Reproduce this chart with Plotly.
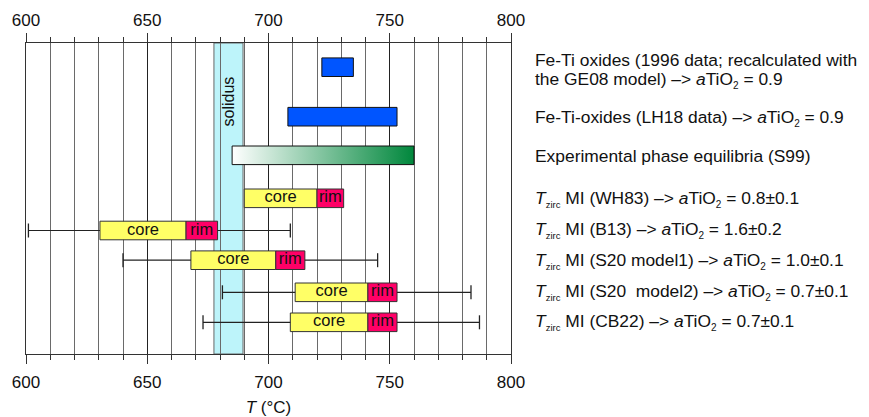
import plotly.graph_objects as go

# ---------------- data ----------------
solidus = [677.5, 689.5]                      # solidus temperature band, °C
fe_ti_1996 = [722, 735]                       # Fe-Ti oxides (1996 data, GE08)
fe_ti_lh18 = [708, 753]                       # Fe-Ti oxides (LH18)
exp_s99 = [685, 760]                          # experimental phase equilibria (S99)

zirc_models = ["WH83", "B13", "S20 model1", "S20\u00a0 model2", "CB22"]
zirc_atio2 = ["0.8±0.1", "1.6±0.2", "1.0±0.1", "0.7±0.1", "0.7±0.1"]
core_start = [690, 630.5, 668, 711, 709]
core_end = [720, 666, 703, 741, 741]          # = rim start
rim_end = [731, 679, 715, 753, 753]
err_lo = [None, 601, 640, 681, 673]
err_hi = [None, 709, 745, 783.5, 787]

x_ticks = [600, 650, 700, 750, 800]

SUB2 = '<sub><span style="font-size:10px">2</span></sub>'
SUBZ = '<sub><span style="font-size:9.5px">zirc</span></sub>'
oxide_labels = [
    "Fe-Ti oxides (1996 data; recalculated with<br>the GE08 model) –> <i>a</i>TiO" + SUB2 + " = 0.9",
    "Fe-Ti-oxides (LH18 data) –> <i>a</i>TiO" + SUB2 + " = 0.9",
    "Experimental phase equilibria (S99)",
]

# ---------------- layout constants ----------------
ROW_Y_TOP = [67.2, 116.7, 155.3]             # row centres (y units) for the three upper rows
ROW_Y_ZIRC = [198.3, 230.5, 260.2, 292.3, 322.3]
LABEL_Y_TOP = [[60, 79.5], [117.5], [156]]
LABEL_Y_ZIRC = [199, 229.5, 260.5, 291.5, 322]
BAR_H = 18.6
FONT = "Liberation Sans, Arial, Helvetica, sans-serif"
LABEL_SIZE = 17.4
BLUE = "#0055ff"
YELLOW = "#ffff66"
RIM = "#ff0066"
SOLIDUS_FILL = "#bdf4fa"
GREEN = "#00873c"
INK = "#222222"

fig = go.Figure()

# error whiskers (left and right parts, outside the bars)
for i in range(len(zirc_models)):
    if err_lo[i] is None:
        continue
    y = ROW_Y_ZIRC[i]
    for xs in ([err_lo[i], core_start[i]], [rim_end[i], err_hi[i]]):
        fig.add_trace(go.Scatter(x=xs, y=[y, y], mode="lines",
                                 line=dict(color=INK, width=1.2),
                                 showlegend=False, hoverinfo="skip"))
    fig.add_trace(go.Scatter(x=[err_lo[i], err_hi[i]], y=[y, y], mode="markers",
                             marker=dict(symbol="line-ns", size=10,
                                         line=dict(color=INK, width=1.3)),
                             showlegend=False, hoverinfo="skip"))

# Fe-Ti oxide bars
fig.add_trace(go.Bar(orientation="h",
                     y=[ROW_Y_TOP[0], ROW_Y_TOP[1]],
                     base=[fe_ti_1996[0], fe_ti_lh18[0]],
                     x=[fe_ti_1996[1] - fe_ti_1996[0], fe_ti_lh18[1] - fe_ti_lh18[0]],
                     width=BAR_H, marker=dict(color=BLUE, line=dict(color="#111", width=1)),
                     showlegend=False, hoverinfo="skip"))

# core bars
fig.add_trace(go.Bar(orientation="h", y=ROW_Y_ZIRC, base=core_start,
                     x=[e - s for s, e in zip(core_start, core_end)],
                     width=BAR_H, marker=dict(color=YELLOW, line=dict(color="#333", width=1)),
                     showlegend=False, hoverinfo="skip"))
# rim bars
fig.add_trace(go.Bar(orientation="h", y=ROW_Y_ZIRC, base=core_end,
                     x=[e - s for s, e in zip(core_end, rim_end)],
                     width=BAR_H, marker=dict(color=RIM, line=dict(color="#333", width=1)),
                     showlegend=False, hoverinfo="skip"))

# gradient bar for experimental equilibria
yc = ROW_Y_TOP[2]
fig.add_trace(go.Scatter(
    x=[exp_s99[0], exp_s99[1], exp_s99[1], exp_s99[0], exp_s99[0]],
    y=[yc - BAR_H / 2, yc - BAR_H / 2, yc + BAR_H / 2, yc + BAR_H / 2, yc - BAR_H / 2],
    mode="lines", fill="toself",
    fillgradient=dict(type="horizontal", colorscale=[[0, "#ffffff"], [1, GREEN]]),
    line=dict(color="#111", width=1), showlegend=False, hoverinfo="skip"))

# core / rim labels
fig.add_trace(go.Scatter(
    x=[(s + e) / 2 for s, e in zip(core_start, core_end)] + [(s + e) / 2 for s, e in zip(core_end, rim_end)],
    y=ROW_Y_ZIRC + ROW_Y_ZIRC,
    text=["core"] * len(core_start) + ["rim"] * len(core_end),
    mode="text", textfont=dict(family=FONT, size=16.5, color="#111"),
    showlegend=False, hoverinfo="skip"))

# invisible trace for the top axis
fig.add_trace(go.Scatter(x=[x_ticks[0], x_ticks[-1]], y=[ROW_Y_TOP[0]] * 2, xaxis="x2",
                         mode="markers", marker=dict(opacity=0), showlegend=False, hoverinfo="skip"))

# solidus band
fig.add_shape(type="rect", xref="x", yref="paper", x0=solidus[0], x1=solidus[1], y0=0, y1=1,
              fillcolor=SOLIDUS_FILL, line=dict(color="#666", width=1), layer="between")
fig.add_annotation(x=(solidus[0] + solidus[1]) / 2, y=101, xref="x", yref="y", text="solidus",
                   textangle=-90, showarrow=False, font=dict(family=FONT, size=16, color="#111"))

# right-hand labels
LABEL_X = 1.0455
for lab, ys in zip(oxide_labels, LABEL_Y_TOP):
    for part, y in zip(lab.split("<br>"), ys):
        fig.add_annotation(x=LABEL_X, y=y, xref="paper", yref="y", xanchor="left", yanchor="middle",
                           text=part, showarrow=False, align="left",
                           font=dict(family=FONT, size=LABEL_SIZE, color="#111"))
for name, a, y in zip(zirc_models, zirc_atio2, LABEL_Y_ZIRC):
    fig.add_annotation(x=LABEL_X, y=y, xref="paper", yref="y", xanchor="left", yanchor="middle",
                       text=f"<i>T</i>{SUBZ} MI ({name}) –> <i>a</i>TiO{SUB2} = {a}",
                       showarrow=False, align="left",
                       font=dict(family=FONT, size=LABEL_SIZE, color="#111"))

axis_common = dict(range=[x_ticks[0], x_ticks[-1]], tickvals=x_ticks, ticks="outside", ticklen=9,
                   tickcolor="#333", tickwidth=1, showline=True, linecolor="#333", linewidth=1.3,
                   tickfont=dict(family=FONT, size=17, color="#111"), zeroline=False,
                   automargin=False,
                   minor=dict(dtick=10, tick0=600, ticks="outside", ticklen=5, tickcolor="#333",
                              showgrid=True, gridcolor="#6a6a6a", gridwidth=1))

fig.update_layout(
    width=869, height=417, autosize=False,
    margin=dict(l=26, r=358, t=43, b=63),
    paper_bgcolor="white", plot_bgcolor="white",
    barmode="overlay",
    font=dict(family=FONT, color="#111"),
    xaxis=dict(**axis_common, showgrid=True, gridcolor="#222", gridwidth=1, ticklabelstandoff=3,
               title=dict(text="<i>T</i> (°C)", font=dict(family=FONT, size=17, color="#111"),
                          standoff=10)),
    xaxis2=dict(**axis_common, overlaying="x", side="top", matches="x", showgrid=False),
    yaxis=dict(range=[354, 43], autorange=False, showticklabels=False, showgrid=False,
               zeroline=False, showline=True, mirror=True, linecolor="#333", linewidth=1.3,
               ticks="", automargin=False),
)

fig.write_html("out.html")
